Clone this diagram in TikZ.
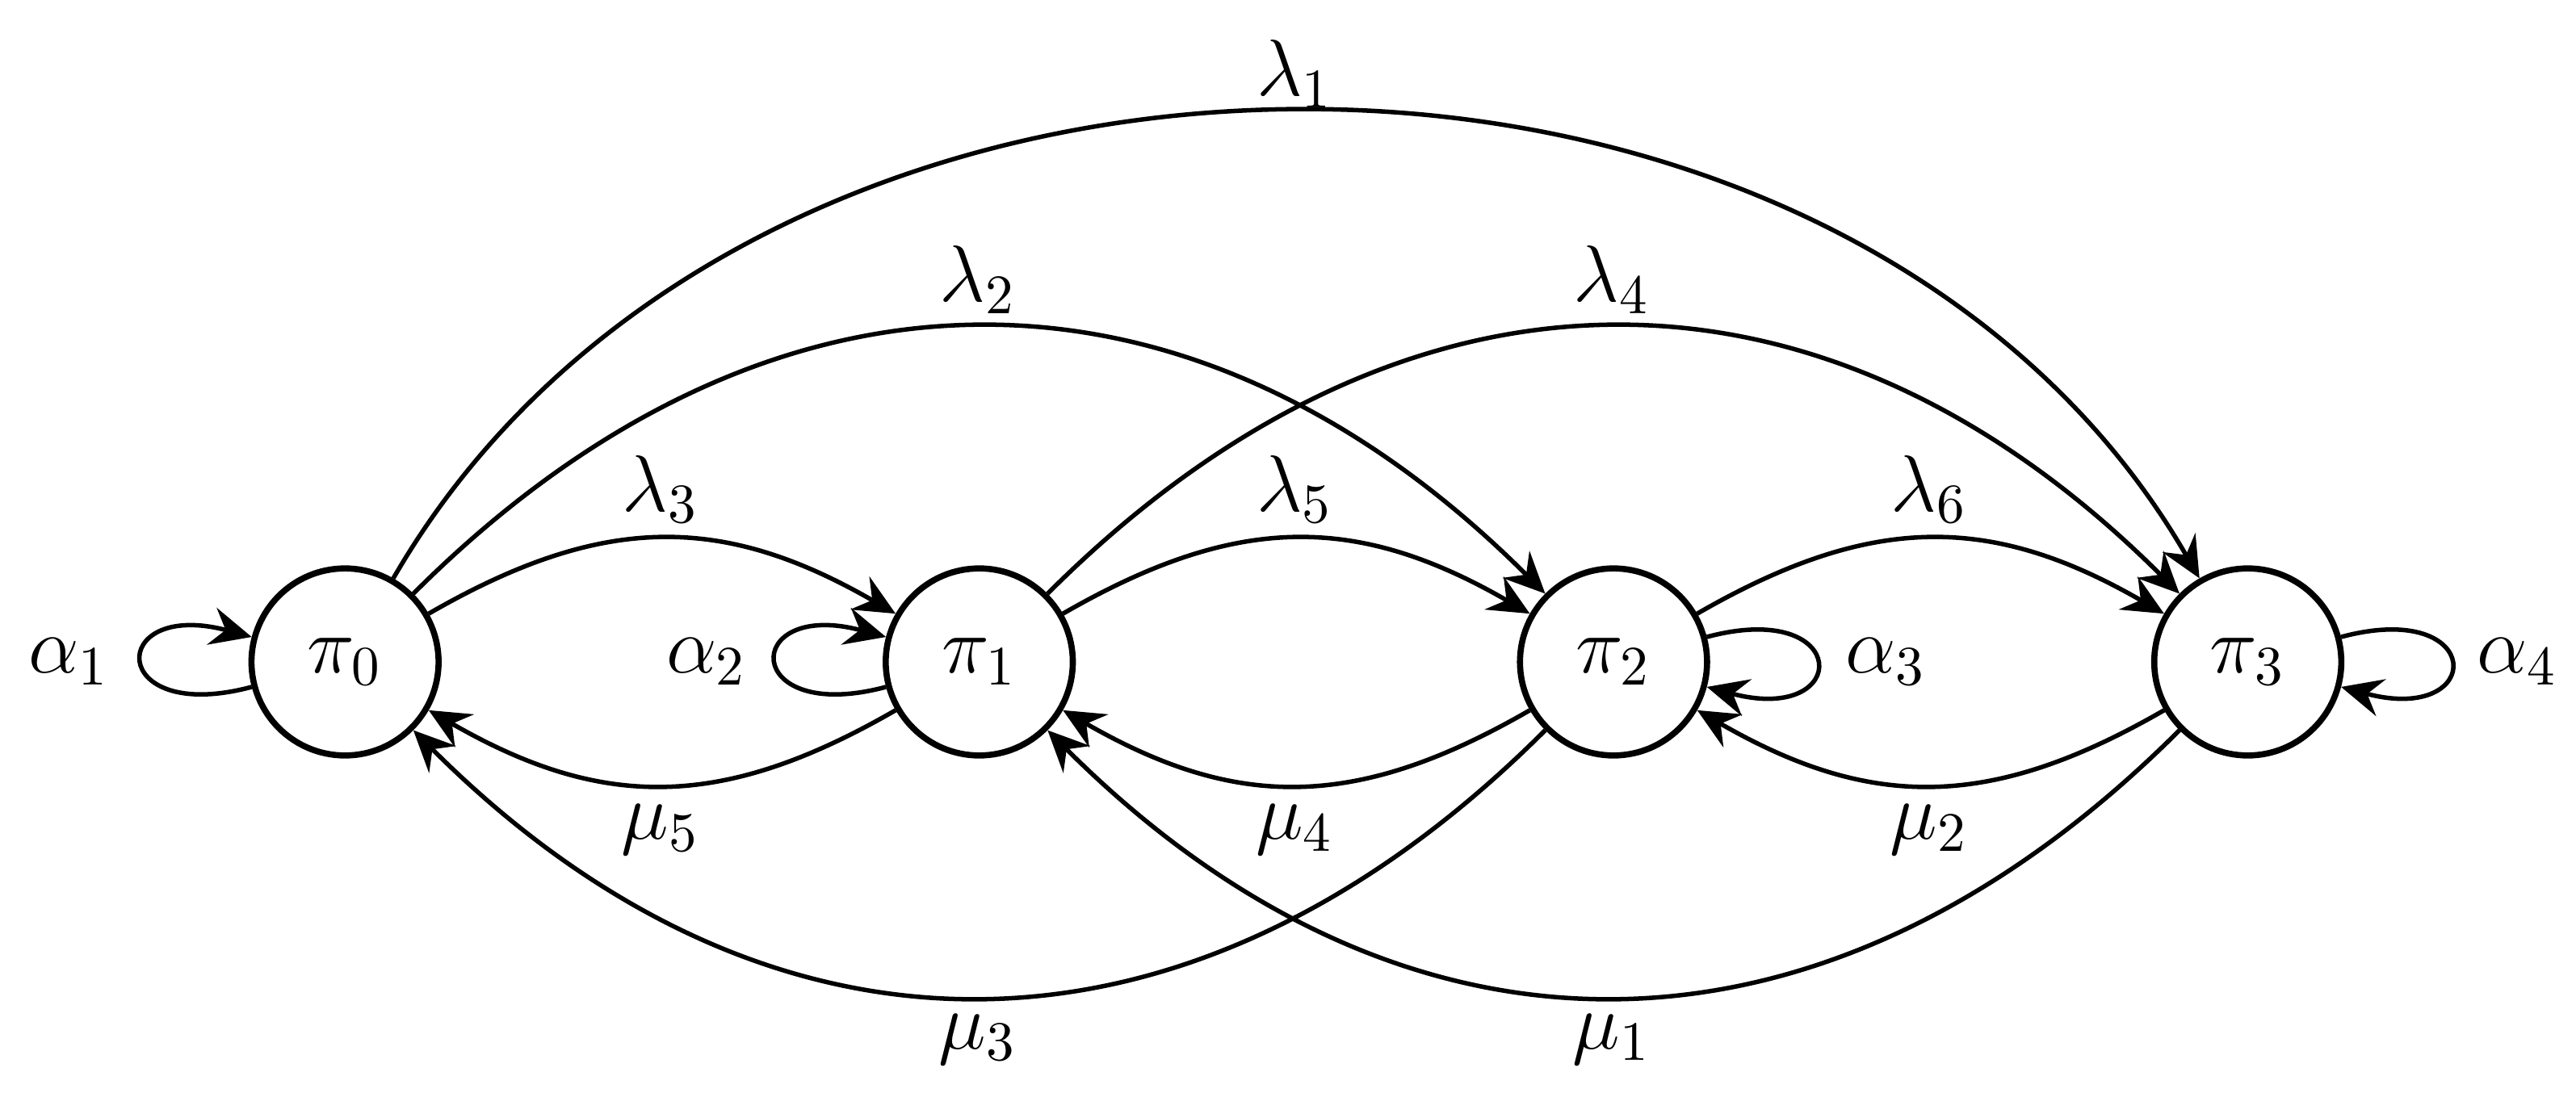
\documentclass[tikz,border=0pt]{standalone}
\usetikzlibrary{arrows.meta}
\begin{document}
\begin{tikzpicture}[
  st/.style={circle,draw,line width=1.1pt,minimum size=1.18cm,inner sep=0pt,font=\Large},
  e/.style={-{Stealth[length=2.6mm,width=2.4mm,inset=0.9mm]},line width=0.8pt},
  lb/.style={font=\Large}]
\useasboundingbox (-2.176,-2.715) rectangle (14.07,4.176);
\node[st] (p0) at (0,0) {$\pi_0$};
\node[st] (p1) at (4,0) {$\pi_1$};
\node[st] (p2) at (8,0) {$\pi_2$};
\node[st] (p3) at (12,0) {$\pi_3$};
% lambdas
\draw[e] (p0) to[out=60,in=120,looseness=1.02] (p3);
\draw[e] (p0) to[out=45,in=135,looseness=1.14] (p2);
\draw[e] (p1) to[out=45,in=135,looseness=1.14] (p3);
\draw[e] (p0) to[out=30,in=150,looseness=1.1] (p1);
\draw[e] (p1) to[out=30,in=150,looseness=1.1] (p2);
\draw[e] (p2) to[out=30,in=150,looseness=1.1] (p3);
% mus
\draw[e] (p3) to[out=-135,in=-45,looseness=1.14] (p1);
\draw[e] (p2) to[out=-135,in=-45,looseness=1.14] (p0);
\draw[e] (p1) to[out=-150,in=-30,looseness=1.1] (p0);
\draw[e] (p2) to[out=-150,in=-30,looseness=1.1] (p1);
\draw[e] (p3) to[out=-150,in=-30,looseness=1.1] (p2);
% loops
\draw[e] (p0.195) .. controls +(195:0.95) and +(165:0.95) .. (p0.165);
\draw[e] (p1.195) .. controls +(195:0.95) and +(165:0.95) .. (p1.165);
\draw[e] (p2.15) .. controls +(15:0.95) and +(-15:0.95) .. (p2.-15);
\draw[e] (p3.15) .. controls +(15:0.95) and +(-15:0.95) .. (p3.-15);
% labels
\node[lb] (l1) at (5.99,3.71) {$\lambda_1$};
\node[lb] (l2) at (3.99,2.41) {$\lambda_2$};
\node[lb] (l4) at (7.99,2.41) {$\lambda_4$};
\node[lb] (l3) at (1.99,1.09) {$\lambda_3$};
\node[lb] (l5) at (5.99,1.09) {$\lambda_5$};
\node[lb] (l6) at (9.99,1.09) {$\lambda_6$};
\node[lb] (m5) at (1.99,-1.06) {$\mu_5$};
\node[lb] (m4) at (5.99,-1.06) {$\mu_4$};
\node[lb] (m2) at (9.99,-1.06) {$\mu_2$};
\node[lb] (m3) at (3.99,-2.38) {$\mu_3$};
\node[lb] (m1) at (7.99,-2.38) {$\mu_1$};
\node[lb] (a1) at (-1.74,0) {$\alpha_1$};
\node[lb] (a2) at (2.28,0) {$\alpha_2$};
\node[lb] (a3) at (9.72,0) {$\alpha_3$};
\node[lb] (a4) at (13.7,0) {$\alpha_4$};
\end{tikzpicture}
\end{document}
